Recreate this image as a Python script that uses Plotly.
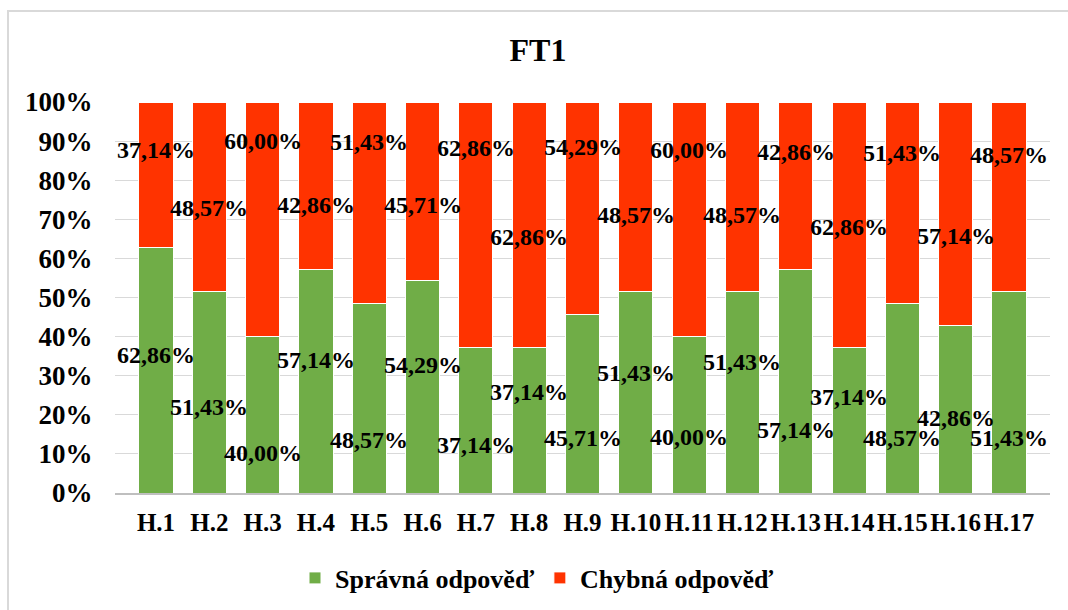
import plotly.graph_objects as go

categories = ["H.1", "H.2", "H.3", "H.4", "H.5", "H.6", "H.7", "H.8", "H.9",
              "H.10", "H.11", "H.12", "H.13", "H.14", "H.15", "H.16", "H.17"]
spravna = [62.86, 51.43, 40.00, 57.14, 48.57, 54.29, 37.14, 37.14, 45.71,
           51.43, 40.00, 51.43, 57.14, 37.14, 48.57, 42.86, 51.43]
chybna = [37.14, 48.57, 60.00, 42.86, 51.43, 45.71, 62.86, 62.86, 54.29,
          48.57, 60.00, 48.57, 42.86, 62.86, 51.43, 57.14, 48.57]

# vertical placement of the value labels (axis units, %)
label_y_spravna = [35.3, 22.0, 10.3, 34.0, 13.6, 32.7, 12.3, 25.9, 14.1,
                   30.7, 14.3, 33.5, 16.1, 24.6, 14.1, 19.2, 14.1]
label_y_chybna = [87.7, 72.9, 90.0, 73.7, 89.8, 73.7, 88.2, 65.5, 88.5,
                  71.1, 87.7, 71.1, 87.2, 68.0, 87.0, 65.7, 86.4]

GREEN = "#70AD47"
RED = "#FF3300"
SERIF = "'Times New Roman', 'Liberation Serif', 'DejaVu Serif', serif"

def fmt(v):
    return f"{v:.2f}".replace(".", ",") + "%"

fig = go.Figure()
fig.add_bar(x=categories, y=spravna, name="<b>Správná odpověď</b>",
            marker=dict(color=GREEN, line=dict(color="white", width=1)))
fig.add_bar(x=categories, y=chybna, name="<b>Chybná odpověď</b>",
            marker=dict(color=RED, line=dict(color="white", width=1)))

annotations = []
for cat, v, ly in zip(categories, spravna, label_y_spravna):
    annotations.append(dict(x=cat, y=ly, text="<b>" + fmt(v) + "</b>",
                            showarrow=False, xanchor="center", yanchor="middle",
                            font=dict(family=SERIF, size=24, color="black")))
for cat, v, ly in zip(categories, chybna, label_y_chybna):
    annotations.append(dict(x=cat, y=ly, text="<b>" + fmt(v) + "</b>",
                            showarrow=False, xanchor="center", yanchor="middle",
                            font=dict(family=SERIF, size=24, color="black")))

# chart frame (left and top edges visible, the rest runs off the page)
L, R, T, B = 115, 18, 102, 117
W, H = 1068, 610
pw, ph = W - L - R, H - T - B
def px(x):
    return (x - L) / pw
def py(y):
    return (H - B - y) / ph

shapes = [dict(type="rect", xref="paper", yref="paper",
               x0=px(8), x1=px(1080), y0=py(625), y1=py(11),
               line=dict(color="#D9D9D9", width=2), fillcolor="rgba(0,0,0,0)",
               layer="below")]

fig.update_layout(
    width=W, height=H,
    margin=dict(l=L, r=R, t=T, b=B, autoexpand=False),
    barmode="stack",
    bargap=0.36,
    plot_bgcolor="white",
    paper_bgcolor="white",
    font=dict(family=SERIF, color="black"),
    title=dict(text="<b>FT1</b>", x=538 / W, xanchor="center", xref="container",
               y=1 - 50 / H, yanchor="middle",
               font=dict(family=SERIF, size=32, color="black")),
    xaxis=dict(showgrid=False, showline=True, linecolor="#BFBFBF", linewidth=2,
               automargin=False,
               tickfont=dict(family=SERIF, size=25, color="black"),
               ticks="outside", ticklen=6, tickcolor="rgba(0,0,0,0)",
               tickprefix="<b>", ticksuffix="</b>"),
    yaxis=dict(range=[0, 100], dtick=10, showgrid=True, gridcolor="#D9D9D9",
               gridwidth=1, zeroline=False, showline=False, automargin=False,
               ticksuffix="%</b>", tickprefix="<b>",
               tickfont=dict(family=SERIF, size=27, color="black"),
               ticks="outside", ticklen=16, tickcolor="rgba(0,0,0,0)"),
    legend=dict(orientation="h", x=px(537), xanchor="center", y=py(578),
                yanchor="middle",
                font=dict(family=SERIF, size=26, color="black"),
                itemwidth=30, traceorder="normal"),
    annotations=annotations,
    shapes=shapes,
)

fig.write_html("out.html")
